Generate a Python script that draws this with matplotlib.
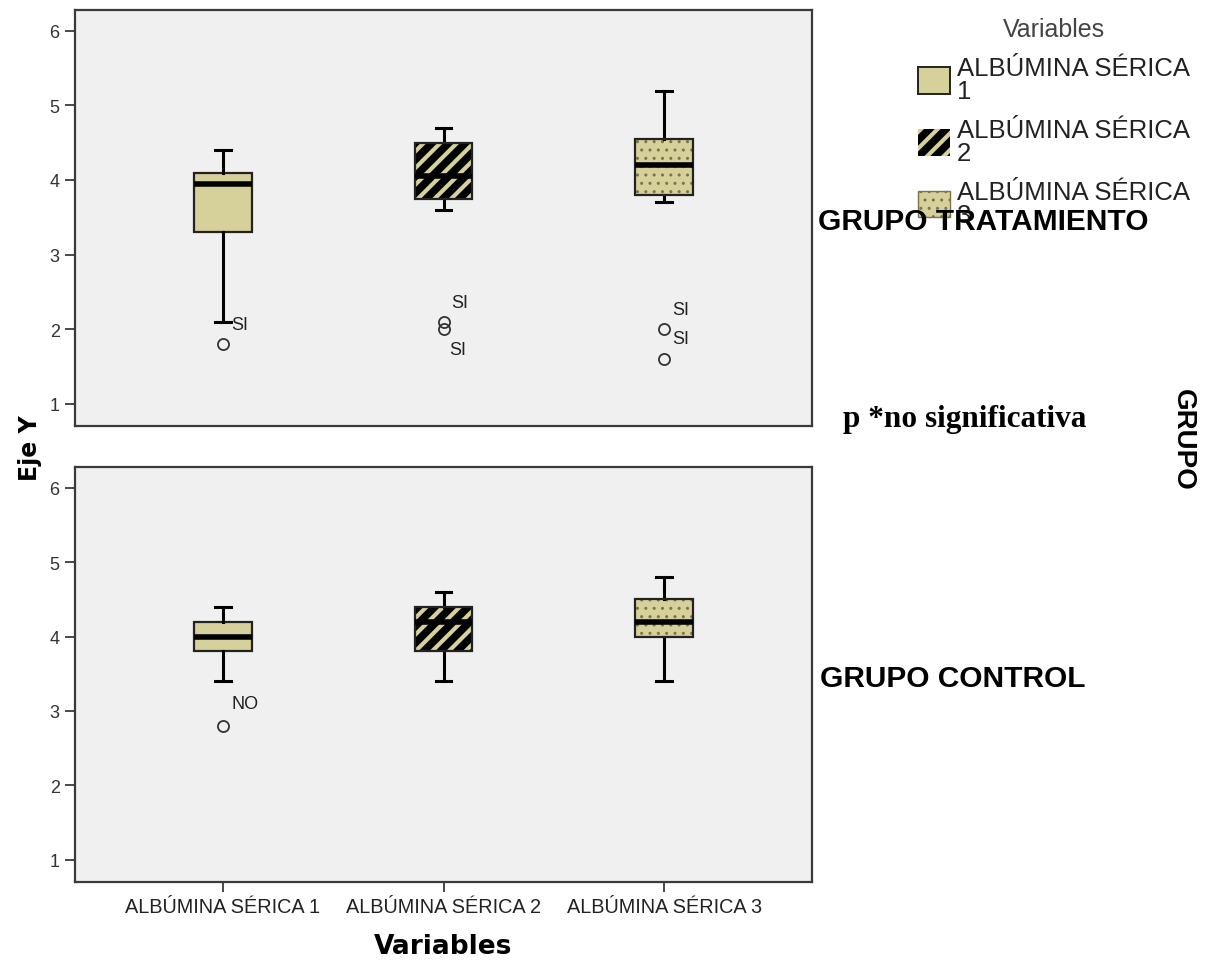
"""Boxplots of serum albumin by group (SPSS style)."""
import numpy as np
import matplotlib
matplotlib.use("Agg")
import matplotlib.pyplot as plt
from matplotlib.patches import Patch, PathPatch

# -------------------------------------------------------
# Data.
# -------------------------------------------------------
variables = ["ALBÚMINA SÉRICA 1", "ALBÚMINA SÉRICA 2", "ALBÚMINA SÉRICA 3"]
groups = ["GRUPO TRATAMIENTO", "GRUPO CONTROL"]

trat_whislo = [2.1, 3.6, 3.7]
trat_q1 = [3.3, 3.75, 3.8]
trat_med = [3.95, 4.05, 4.2]
trat_q3 = [4.1, 4.5, 4.55]
trat_whishi = [4.4, 4.7, 5.2]
trat_fliers = [[1.8], [2.1, 2.0], [2.0, 1.6]]
trat_flier_labels = [["SI"], ["SI", "SI"], ["SI", "SI"]]

ctrl_whislo = [3.4, 3.4, 3.4]
ctrl_q1 = [3.8, 3.8, 4.0]
ctrl_med = [4.0, 4.2, 4.2]
ctrl_q3 = [4.2, 4.4, 4.5]
ctrl_whishi = [4.4, 4.6, 4.8]
ctrl_fliers = [[2.8], [], []]
ctrl_flier_labels = [["NO"], [], []]

yticks = [1, 2, 3, 4, 5, 6]

# -------------------------------------------------------
# Plot setup.
# -------------------------------------------------------
W, H = 1207, 962
tan = "#d6d09b"
dots = "#7a7448"
bg = "#f0f0f0"
plt.rcParams["font.family"] = ["Liberation Sans", "DejaVu Sans"]
plt.rcParams["hatch.linewidth"] = 3.0

# label offsets (points) for outlier labels, per box
label_offsets = [[(12, 14)], [(12, 14), (10, -14.5)], [(12, 14), (12, 15)]]
ctrl_offsets = [[(16, 16)], [], []]


def make_stats(whislo, q1, med, q3, whishi, fliers):
    stats = []
    for i in range(len(med)):
        stats.append({"whislo": whislo[i], "q1": q1[i], "med": med[i],
                      "q3": q3[i], "whishi": whishi[i],
                      "fliers": np.array(fliers[i])})
    return stats


def thin_dots(patch):
    # dotted hatch needs a thin line, the stripes a thick one
    if hasattr(patch, "set_hatch_linewidth"):
        patch.set_hatch_linewidth(1.0)


def draw_panel(ax, stats, fliers, flier_labels, offsets):
    bp = ax.bxp(stats, positions=[1, 2, 3], widths=0.26, patch_artist=True,
                capwidths=0.07,
                medianprops={"color": "black", "linewidth": 4,
                             "solid_capstyle": "butt"},
                whiskerprops={"color": "black", "linewidth": 2.2},
                capprops={"color": "black", "linewidth": 2.2},
                flierprops={"marker": "o", "markersize": 8,
                            "markerfacecolor": "none",
                            "markeredgecolor": "#333333",
                            "markeredgewidth": 1.3})
    for i, box in enumerate(bp["boxes"]):
        if i == 0:
            box.set_facecolor(tan)
            box.set_edgecolor("#222222")
            box.set_linewidth(1.6)
        else:
            if i == 1:
                box.set_facecolor("black")
                box.set_edgecolor(tan)
                box.set_hatch("//")
            else:
                box.set_facecolor(tan)
                box.set_edgecolor(dots)
                box.set_hatch("..")
                thin_dots(box)
            box.set_linewidth(0)
            ax.add_patch(PathPatch(box.get_path(), fill=False,
                                   edgecolor="#222222", linewidth=1.6,
                                   zorder=box.get_zorder() + 0.1))
    for med in bp["medians"]:
        med.set_zorder(5)
    for i in range(3):
        for val, txt, off in zip(fliers[i], flier_labels[i], offsets[i]):
            ax.annotate(txt, (i + 1, val), xytext=off,
                        textcoords="offset points", ha="center",
                        va="center", fontsize=13, color="#222222")
    ax.set_xlim(0.33, 3.67)
    ax.set_ylim(0.7, 6.28)
    ax.set_yticks(yticks)
    ax.set_facecolor(bg)
    for sp in ax.spines.values():
        sp.set_color("#3a3a3a")
        sp.set_linewidth(1.6)
    ax.tick_params(axis="y", length=7, width=1.3, color="#3a3a3a",
                   labelsize=13, labelcolor="#333333", pad=4)


# -------------------------------------------------------
# Figure.
# -------------------------------------------------------
fig = plt.figure(figsize=(W / 100, H / 100), dpi=100)
ax_top = fig.add_axes([75 / W, 1 - 427 / H, 737 / W, 416 / H])
ax_bot = fig.add_axes([75 / W, 1 - 883 / H, 737 / W, 415 / H])

draw_panel(ax_top,
           make_stats(trat_whislo, trat_q1, trat_med, trat_q3, trat_whishi,
                      trat_fliers),
           trat_fliers, trat_flier_labels, label_offsets)
draw_panel(ax_bot,
           make_stats(ctrl_whislo, ctrl_q1, ctrl_med, ctrl_q3, ctrl_whishi,
                      ctrl_fliers),
           ctrl_fliers, ctrl_flier_labels, ctrl_offsets)

ax_top.tick_params(axis="x", bottom=False, labelbottom=False)
ax_bot.set_xticks([1, 2, 3])
ax_bot.set_xticklabels(variables)
ax_bot.tick_params(axis="x", length=7, width=1.3, color="#3a3a3a",
                   labelsize=14.3, labelcolor="#222222", pad=4)
ax_bot.set_xlabel("Variables", fontsize=19, fontweight="bold",
                  family=["DejaVu Sans"], labelpad=12)

fig.text(30 / W, 1 - 448 / H, "Eje Y", rotation=90, fontsize=17,
         fontweight="bold", family=["DejaVu Sans"], ha="center", va="center")

# group labels
fig.text(818 / W, 1 - 222 / H, groups[0], fontsize=21.5, fontweight="bold",
         ha="left", va="center", zorder=10)
fig.text(820 / W, 1 - 679 / H, groups[1], fontsize=21.5, fontweight="bold",
         ha="left", va="center", zorder=10)
fig.text(1183 / W, 1 - 440 / H, "GRUPO", rotation=270, fontsize=20,
         fontweight="bold", ha="center", va="center")
fig.text(843 / W, 1 - 420 / H, "p *no significativa", fontsize=22.5,
         fontweight="bold", family=["Liberation Serif"], ha="left",
         va="center")

# legend
handles = [Patch(facecolor=tan, edgecolor="#222222", linewidth=1.4),
           Patch(facecolor="black", edgecolor=tan, hatch="//", linewidth=0),
           Patch(facecolor=tan, edgecolor=dots, hatch="..")]
leg_labels = [v.replace(" 1", "\n1").replace(" 2", "\n2").replace(" 3", "\n3")
              for v in variables]
leg = fig.legend(handles, leg_labels, title="Variables", loc="upper left",
                 bbox_to_anchor=(900 / W, 1 - 0 / H), frameon=False,
                 fontsize=18.5, title_fontsize=18, handlelength=1.25,
                 handleheight=1.2, handletextpad=0.25, labelspacing=0.6,
                 borderpad=0.2)
leg.set_zorder(5)
thin_dots(leg.legend_handles[2])
plt.setp(leg.get_texts(), linespacing=0.92, color="#222222")
leg.get_title().set_color("#444444")

plt.savefig("out.png", dpi=100)
plt.close()
